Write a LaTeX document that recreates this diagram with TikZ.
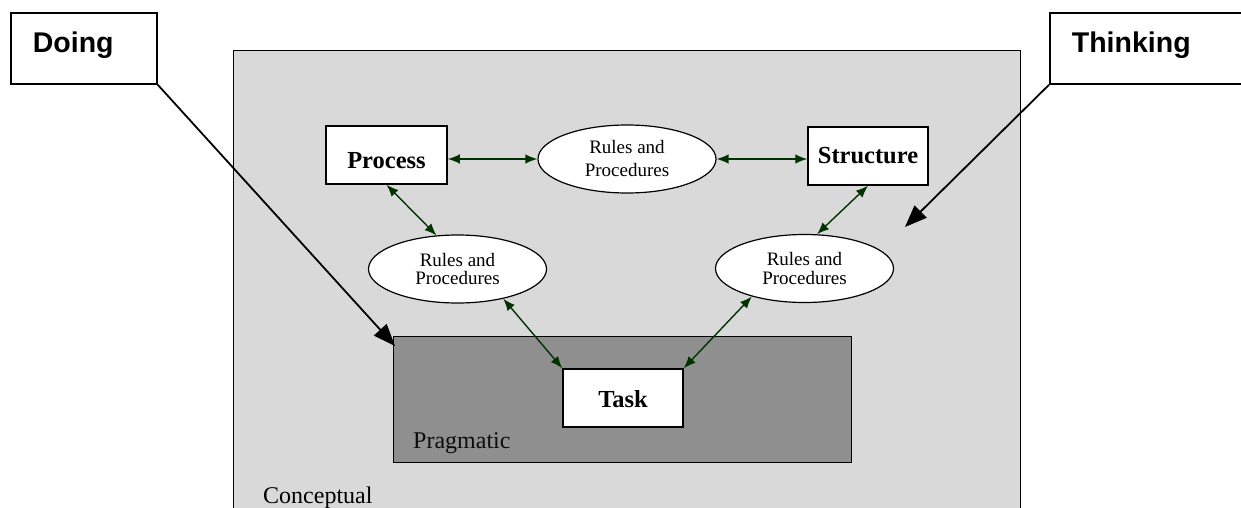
\documentclass[tikz,border=0pt]{standalone}
\usepackage{fontspec}
\setmainfont{Liberation Serif}
\setsansfont{Liberation Sans}
\usetikzlibrary{arrows.meta,shapes.geometric}
\definecolor{concfill}{HTML}{D9D9D9}
\definecolor{pragfill}{HTML}{8F8F8F}
\definecolor{linkcol}{HTML}{003300}
\begin{document}
\begin{tikzpicture}[x=1pt,y=-1pt,
  callout/.style={draw=black,line width=1.8pt,fill=white,anchor=north west,
    inner ysep=0pt,inner xsep=22pt,align=left,
    font=\sffamily\bfseries\fontsize{28.5}{32}\selectfont,
    text height=40pt,text depth=31pt},
  area/.style={draw=black,line width=1.3pt,anchor=north west,inner sep=0pt},
  arealabel/.style={anchor=base west,inner sep=0pt,font=\fontsize{24}{28}\selectfont},
  mainbox/.style={draw=black,line width=1.5pt,fill=white,inner sep=0pt,
    font=\bfseries\fontsize{24.5}{28}\selectfont},
  rules/.style={ellipse,draw=black,line width=1.2pt,fill=white,
    minimum width=178pt,minimum height=68pt,inner sep=0pt,align=center},
  link/.style={draw=linkcol,line width=1.4pt,
    {Latex[length=12pt,width=9.5pt]}-{Latex[length=12pt,width=9.5pt]}},
  pointer/.style={draw=black,line width=1.8pt,-{Triangle[length=22pt,width=17pt]}}
]
\useasboundingbox (0,0) rectangle (1241,508);
\begin{scope}
\clip (0,0) rectangle (1241,508);
% areas
\node (concept) [area,fill=concfill,minimum width=787pt,minimum height=475pt] at (233,50) {};
\node (prag) [area,fill=pragfill,minimum width=458pt,minimum height=126pt] at (393,336) {};
\node (conclbl) [arealabel] at (263,503) {Conceptual};
\node (praglbl) [arealabel,text=black!95] at (413,448) {Pragmatic};

% main boxes
\node (process) [mainbox,minimum width=121pt,text height=42pt,text depth=16pt] at (386.5,155) {Process\hspace{8pt}};
\node (structure) [mainbox,minimum width=120pt,text height=36pt,text depth=22pt] at (868,156) {Structure};
\node (task) [mainbox,minimum width=120pt,text height=38pt,text depth=20pt] at (623,398) {Task\hspace{10pt}};

% ellipses
\node (rtop) [rules,font=\fontsize{19}{23}\selectfont] at (627,159) {Rules and\\Procedures};
\node (rleft) [rules,font=\fontsize{19}{18.5}\selectfont] at (457.5,269) {Rules and\\Procedures};
\node (rright) [rules,font=\fontsize{19}{18.5}\selectfont] at (804.5,268.5) {Rules and\\Procedures};

% connectors
\draw[link] (process.east |- rtop.west) -- (rtop.west);
\draw[link] (rtop.east) -- (structure.west |- rtop.east);
\draw[link] (process.south) -- (rleft.122);
\draw[link] (structure.south) -- (rright.70);
\draw[link] (rleft.-33) -- (task.north west);
\draw[link] (rright.208) -- (task.north east);

% callouts
\node (doing) [callout,text width=102pt] at (10,12) {Doing};
\node (thinking) [callout,text width=157pt] at (1049,12) {Thinking};
\coordinate (doingtip) at (395,346);
\coordinate (thinktip) at (905,227);
\draw[pointer] (doing.south east) -- (doingtip);
\draw[pointer] (thinking.south west) -- (thinktip);
\end{scope}
\end{tikzpicture}
\end{document}
